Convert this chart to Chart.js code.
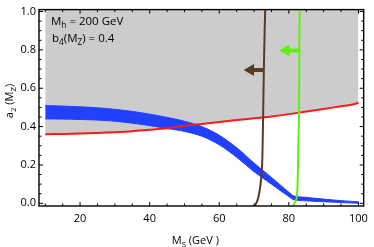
<!DOCTYPE html>
<html>
<head>
<meta charset="utf-8">
<script src="https://cdn.jsdelivr.net/npm/chart.js@4.4.1/dist/chart.umd.min.js"></script>
<style>
  html, body { margin: 0; padding: 0; background: #fff; }
  canvas { display: block; }
</style>
</head>
<body>
<canvas id="grafico" width="374" height="247"></canvas>
<script>
// ===============================
// Data
// ===============================
const xTicks = [20, 40, 60, 80, 100];
const xMinorTicks = [10, 15, 25, 30, 35, 45, 50, 55, 65, 70, 75, 85, 90, 95];
const yTicks = [0, 0.2, 0.4, 0.6, 0.8, 1.0];
const yMinorTicks = [0.05, 0.1, 0.15, 0.25, 0.3, 0.35, 0.45, 0.5, 0.55, 0.65, 0.7, 0.75, 0.85, 0.9, 0.95];

// red curve, gray region above it
const redX = [10, 15, 20, 25, 30, 35, 40, 45, 50, 55, 60, 65, 70, 75, 80, 85, 90, 95, 98, 100];
const redY = [0.360, 0.362, 0.364, 0.367, 0.371, 0.376, 0.383, 0.391, 0.404, 0.414, 0.424, 0.434, 0.443, 0.453, 0.465, 0.479, 0.492, 0.506, 0.514, 0.524];

// blue band
const bandX = [10, 15, 20, 25, 30, 35, 40, 45, 50, 55, 60, 65, 70, 75, 80, 81.5, 85, 90, 95, 100];
const bandHi = [0.510, 0.507, 0.503, 0.498, 0.490, 0.479, 0.465, 0.448, 0.428, 0.400, 0.355, 0.290, 0.210, 0.135, 0.058, 0.038, 0.031, 0.022, 0.014, 0.008];
const bandLo = [0.440, 0.439, 0.437, 0.434, 0.428, 0.418, 0.405, 0.390, 0.375, 0.350, 0.305, 0.240, 0.165, 0.100, 0.035, 0.018, 0.013, 0.008, 0.004, 0.000];

// brown and green (almost vertical) lines
const brownX = [70.1, 70.6, 71.0, 71.4, 71.8, 72.2, 72.4, 72.6, 72.8, 73.0, 73.2];
const brownY = [-0.014, 0.0, 0.017, 0.045, 0.09, 0.16, 0.25, 0.45, 0.68, 0.86, 1.01];
const greenX = [81.2, 81.6, 82.0, 82.3, 82.5, 82.7, 82.9, 83.0, 83.1];
const greenY = [-0.014, 0.0, 0.012, 0.035, 0.1, 0.27, 0.45, 0.7, 1.01];

// arrows: [brown, green]
const arrowY = [0.695, 0.797];
const arrowFrom = [72.8, 83.0];
const arrowHead = [69.0, 79.2];

const BROWN = "#5a3b22";
const GREEN = "#62ee14";
const BLUE = "#2240ff";
const RED = "#ff1a1a";
const GRAY = "#cccccc";
const FONT = '"Open Sans", "DejaVu Sans", sans-serif';

const pts = (xs, ys) => xs.map((x, i) => ({ x, y: ys[i] }));

// ===============================
// Frame, inward ticks, titles, notes
// ===============================
function richText(ctx, parts, x, y, size) {
  let cx = x;
  parts.forEach(([t, sub]) => {
    ctx.font = (sub ? size * 0.72 : size) + "px " + FONT;
    ctx.fillText(t, cx, sub ? y + size * 0.28 : y);
    cx += ctx.measureText(t).width;
  });
  return cx - x;
}
function richWidth(ctx, parts, size) {
  let w = 0;
  parts.forEach(([t, sub]) => {
    ctx.font = (sub ? size * 0.72 : size) + "px " + FONT;
    w += ctx.measureText(t).width;
  });
  return w;
}

const frame = {
  id: "frame",
  afterDraw(chart) {
    const { ctx, chartArea: a, scales } = chart;
    const sx = scales.x, sy = scales.y;
    ctx.save();
    ctx.strokeStyle = "#000";
    ctx.lineWidth = 1.4;
    ctx.strokeRect(a.left, a.top, a.right - a.left, a.bottom - a.top);

    ctx.lineWidth = 1;
    ctx.beginPath();
    const tickX = (v, len) => {
      const px = sx.getPixelForValue(v);
      ctx.moveTo(px, a.bottom); ctx.lineTo(px, a.bottom - len);
      ctx.moveTo(px, a.top); ctx.lineTo(px, a.top + len);
    };
    const tickY = (v, len) => {
      const py = sy.getPixelForValue(v);
      ctx.moveTo(a.left, py); ctx.lineTo(a.left + len, py);
      ctx.moveTo(a.right, py); ctx.lineTo(a.right - len, py);
    };
    xTicks.forEach(v => tickX(v, 4));
    xMinorTicks.forEach(v => tickX(v, 2.5));
    yTicks.forEach(v => tickY(v, 4));
    yMinorTicks.forEach(v => tickY(v, 2.5));
    ctx.stroke();

    ctx.fillStyle = "#000";
    ctx.textBaseline = "alphabetic";
    ctx.textAlign = "left";
    richText(ctx, [["M", 0], ["h", 1], [" = 200 GeV", 0]], 51, 25, 11.5);
    richText(ctx, [["b", 0], ["4", 1], ["(M", 0], ["Z", 1], [") = 0.4", 0]], 52, 42, 11.5);

    // x title
    const xt = [["M", 0], ["S", 1], [" (GeV )", 0]];
    richText(ctx, xt, (a.left + a.right) / 2 - 6 - richWidth(ctx, xt, 11) / 2, 244, 11);

    // y title
    const yt = [["a", 0], ["2", 1], [" (M", 0], ["Z", 1], [")", 0]];
    ctx.translate(13, 101);
    ctx.rotate(-Math.PI / 2);
    richText(ctx, yt, -richWidth(ctx, yt, 11) / 2, 0, 11);
    ctx.restore();
  }
};

// ===============================
// Chart
// ===============================
const datasets = [
  { data: pts(greenX, greenY), borderColor: GREEN, borderWidth: 2, order: 1 },
  { data: pts(brownX, brownY), borderColor: BROWN, borderWidth: 2, order: 2 },
  { data: [{ x: arrowFrom[0], y: arrowY[0] }, { x: arrowHead[0] + 0.6, y: arrowY[0] }], borderColor: BROWN, borderWidth: 4, order: 2 },
  { data: [{ x: arrowHead[0], y: arrowY[0] }], showLine: false, pointRadius: 7, pointStyle: "triangle", rotation: -90,
    pointBackgroundColor: BROWN, pointBorderColor: BROWN, pointBorderWidth: 0, order: 2 },
  { data: [{ x: arrowFrom[1], y: arrowY[1] }, { x: arrowHead[1] + 0.6, y: arrowY[1] }], borderColor: GREEN, borderWidth: 4, order: 1 },
  { data: [{ x: arrowHead[1], y: arrowY[1] }], showLine: false, pointRadius: 7, pointStyle: "triangle", rotation: -90,
    pointBackgroundColor: GREEN, pointBorderColor: GREEN, pointBorderWidth: 0, order: 1 },
  { data: pts(redX, redY), borderColor: RED, borderWidth: 2, order: 3 },
  { data: pts(bandX, bandHi), borderColor: BLUE, borderWidth: 1, backgroundColor: BLUE, fill: "+1", order: 4 },
  { data: pts(bandX, bandLo), borderColor: BLUE, borderWidth: 1, order: 5 },
  // gray region: red curve up to the top of the frame
  { data: pts(redX, redY), borderColor: GRAY, borderWidth: 1, backgroundColor: GRAY, fill: "end", order: 6 }
];

new Chart(document.getElementById("grafico"), {
  type: "line",
  data: { datasets },
  options: {
    responsive: false,
    animation: false,
    devicePixelRatio: 1,
    layout: { padding: { left: 0, top: 5, right: 5, bottom: 0 } },
    elements: { point: { radius: 0 }, line: { tension: 0.3 } },
    plugins: { legend: { display: false }, tooltip: { enabled: false } },
    scales: {
      x: {
        type: "linear", min: 8.2, max: 101.5,
        grid: { display: false, drawTicks: false },
        border: { display: false },
        ticks: { color: "#000", font: { family: FONT, size: 11 }, padding: 6, maxRotation: 0, autoSkip: false },
        afterBuildTicks: s => { s.ticks = xTicks.map(v => ({ value: v })); },
        afterFit: s => { s.height = 41; }
      },
      y: {
        type: "linear", min: -0.014, max: 1.01,
        grid: { display: false, drawTicks: false },
        border: { display: false },
        ticks: { color: "#000", font: { family: FONT, size: 11 }, padding: 3,
                 callback: v => v.toFixed(1) },
        afterBuildTicks: s => { s.ticks = yTicks.map(v => ({ value: v })); },
        afterFit: s => { s.width = 39; }
      }
    }
  },
  plugins: [frame]
});
</script>
</body>
</html>
